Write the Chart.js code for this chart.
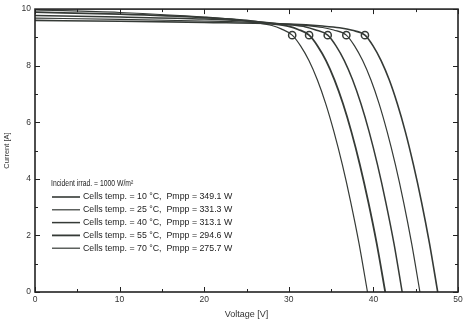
<!DOCTYPE html>
<html>
<head>
<meta charset="utf-8">
<script src="https://cdn.jsdelivr.net/npm/chart.js@4.4.1/dist/chart.umd.min.js"></script>
<style>
html,body{margin:0;padding:0;background:#ffffff;}
#wrap{width:470px;height:325px;}
</style>
</head>
<body>
<div id="wrap"><canvas id="c" width="470" height="325"></canvas></div>
<script>
// Series labels
const seriesLabels = [
  'Cells temp. = 10 °C,  Pmpp = 349.1 W',
  'Cells temp. = 25 °C,  Pmpp = 331.3 W',
  'Cells temp. = 40 °C,  Pmpp = 313.1 W',
  'Cells temp. = 55 °C,  Pmpp = 294.6 W',
  'Cells temp. = 70 °C,  Pmpp = 275.7 W'
];
const legendTitle = 'Incident irrad. = 1000 W/m²';

// Voltage [V] and current [A]
const v10 = [0, 10, 20, 30, 34, 36, 37.5, 39.0, 39.96, 40.91, 41.87, 42.82, 43.78, 44.73, 45.69, 46.64, 47.6];
const i10 = [9.60, 9.57, 9.53, 9.47, 9.40, 9.34, 9.25, 9.08, 8.70, 8.18, 7.50, 6.66, 5.66, 4.50, 3.18, 1.70, 0];
const v25 = [0, 10, 20, 28, 32, 34, 35.3, 36.8, 37.77, 38.73, 39.70, 40.67, 41.63, 42.60, 43.57, 44.53, 45.5];
const i25 = [9.68, 9.64, 9.58, 9.50, 9.42, 9.35, 9.26, 9.08, 8.70, 8.18, 7.50, 6.66, 5.66, 4.50, 3.18, 1.70, 0];
const v40 = [0, 10, 20, 26, 30, 32, 33.1, 34.6, 35.58, 36.56, 37.54, 38.52, 39.50, 40.48, 41.46, 42.44, 43.4];
const i40 = [9.77, 9.72, 9.65, 9.56, 9.45, 9.37, 9.27, 9.08, 8.70, 8.18, 7.50, 6.66, 5.66, 4.50, 3.18, 1.70, 0];
const v55 = [0, 10, 20, 25, 28, 30, 31.1, 32.4, 33.40, 34.40, 35.40, 36.40, 37.40, 38.40, 39.40, 40.40, 41.4];
const i55 = [9.89, 9.82, 9.70, 9.60, 9.48, 9.39, 9.28, 9.08, 8.70, 8.18, 7.50, 6.66, 5.66, 4.50, 3.18, 1.70, 0];
const v70 = [0, 10, 20, 24, 26, 28, 29.1, 30.4, 31.39, 32.38, 33.37, 34.36, 35.34, 36.33, 37.32, 38.31, 39.3];
const i70 = [9.97, 9.88, 9.72, 9.62, 9.53, 9.42, 9.30, 9.08, 8.70, 8.18, 7.50, 6.66, 5.66, 4.50, 3.18, 1.70, 0];

// Maximum power points
const mppV = [39.0, 36.8, 34.6, 32.4, 30.4];
const mppI = [9.08, 9.08, 9.08, 9.08, 9.08];

// Axis ticks
const xTicks = [0, 10, 20, 30, 40, 50];
const yTicks = [0, 2, 4, 6, 8, 10];
const xMinor = [5, 15, 25, 35, 45];
const yMinor = [1, 3, 5, 7, 9];

const volts = [v10, v25, v40, v55, v70];
const amps = [i10, i25, i40, i55, i70];
const widths = [1.6, 1.2, 1.5, 1.8, 1.2];
const lineColor = '#353a36';
const FONT = '"Liberation Sans", Arial, sans-serif';

const datasets = seriesLabels.map((lab, k) => ({
  label: lab,
  data: volts[k].map((v, j) => ({x: v, y: amps[k][j]})),
  borderColor: lineColor,
  borderWidth: widths[k],
  pointRadius: 0,
  fill: false,
  cubicInterpolationMode: 'monotone'
}));
datasets.push({
  label: 'MPP',
  data: mppV.map((v, j) => ({x: v, y: mppI[j]})),
  showLine: false,
  pointRadius: 3.6,
  pointBackgroundColor: '#ffffff',
  pointBorderColor: lineColor,
  pointBorderWidth: 1.5
});

const frame = {
  id: 'frame',
  afterDraw(chart) {
    const {ctx, chartArea: a, scales: {x, y}} = chart;
    ctx.save();
    ctx.strokeStyle = '#222';
    ctx.lineWidth = 1.6;
    ctx.strokeRect(a.left, a.top, a.right - a.left, a.bottom - a.top);
    ctx.lineWidth = 1;
    const tick = (vals, len) => {
      vals.forEach(v => {
        const px = Math.round(x.getPixelForValue(v)) + 0.5;
        ctx.beginPath();
        ctx.moveTo(px, a.bottom); ctx.lineTo(px, a.bottom - len);
        ctx.moveTo(px, a.top); ctx.lineTo(px, a.top + len);
        ctx.stroke();
      });
    };
    const ticky = (vals, len) => {
      vals.forEach(v => {
        const py = Math.round(y.getPixelForValue(v)) + 0.5;
        ctx.beginPath();
        ctx.moveTo(a.left, py); ctx.lineTo(a.left + len, py);
        ctx.moveTo(a.right, py); ctx.lineTo(a.right - len, py);
        ctx.stroke();
      });
    };
    tick(xTicks, 5); tick(xMinor, 3);
    ticky(yTicks, 5); ticky(yMinor, 3);

    // legend
    ctx.fillStyle = '#222';
    ctx.textBaseline = 'middle';
    ctx.save();
    ctx.font = '8.5px ' + FONT;
    ctx.translate(51, 184);
    ctx.scale(0.8, 1);
    ctx.fillText(legendTitle, 0, 0);
    ctx.restore();
    ctx.font = '8.8px ' + FONT;
    seriesLabels.forEach((lab, k) => {
      const yy = 197 + k * 12.8;
      ctx.strokeStyle = lineColor;
      ctx.lineWidth = widths[k];
      ctx.beginPath();
      ctx.moveTo(52, yy); ctx.lineTo(80, yy);
      ctx.stroke();
      ctx.fillText(lab, 83, yy);
    });
    ctx.restore();
  }
};

new Chart(document.getElementById('c'), {
  type: 'line',
  data: {datasets},
  options: {
    responsive: false,
    animation: false,
    devicePixelRatio: 1,
    layout: {padding: {top: 8, right: 12, left: 0, bottom: 0}},
    plugins: {legend: {display: false}, tooltip: {enabled: false}},
    scales: {
      x: {
        type: 'linear', min: 0, max: 50,
        afterBuildTicks: s => { s.ticks = xTicks.map(v => ({value: v})); },
        afterFit: s => { s.height = 33; },
        grid: {display: false, drawTicks: false},
        border: {display: false},
        ticks: {padding: 3, color: '#333', font: {family: FONT, size: 8.5}, maxRotation: 0},
        title: {display: true, text: 'Voltage [V]', color: '#333', padding: {top: 0, bottom: 5},
                font: {family: FONT, size: 9}}
      },
      y: {
        type: 'linear', min: 0, max: 10,
        afterBuildTicks: s => { s.ticks = yTicks.map(v => ({value: v})); },
        afterFit: s => { s.width = 35; },
        grid: {display: false, drawTicks: false},
        border: {display: false},
        ticks: {padding: 4, color: '#333', font: {family: FONT, size: 8.5}},
        title: {display: true, text: 'Current [A]', color: '#333', padding: {top: 2, bottom: 0},
                font: {family: FONT, size: 7.5}}
      }
    }
  },
  plugins: [frame]
});
</script>
</body>
</html>
